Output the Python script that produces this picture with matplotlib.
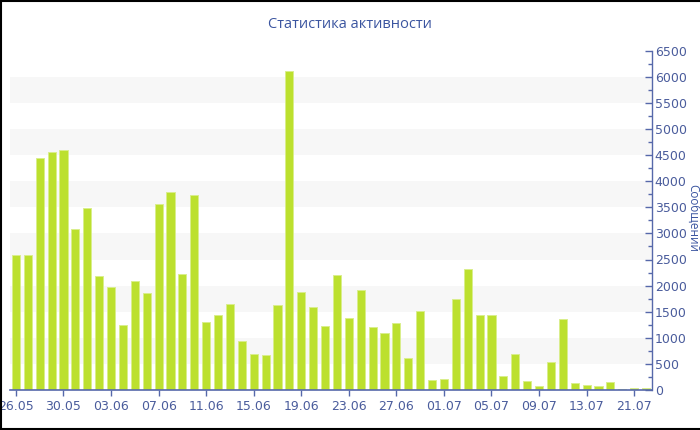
import matplotlib
matplotlib.use("Agg")
import matplotlib.pyplot as plt
from matplotlib.lines import Line2D
import numpy as np

dates = ["26.05", "27.05", "28.05", "29.05", "30.05", "31.05", "01.06", "02.06", "03.06",
         "04.06", "05.06", "06.06", "07.06", "08.06", "09.06", "10.06", "11.06", "12.06",
         "13.06", "14.06", "15.06", "16.06", "17.06", "18.06", "19.06", "20.06", "21.06",
         "22.06", "23.06", "24.06", "25.06", "26.06", "27.06", "28.06", "29.06", "30.06",
         "01.07", "02.07", "03.07", "04.07", "05.07", "06.07", "07.07", "08.07", "09.07",
         "10.07", "11.07", "12.07", "13.07", "14.07", "16.07", "18.07", "21.07", "22.07"]
messages = [2590, 2590, 4440, 4550, 4590, 3080, 3480, 2185, 1975, 1245,
            2085, 1850, 3555, 3800, 2230, 3730, 1295, 1430, 1650, 935,
            685, 665, 1635, 6105, 1870, 1585, 1230, 2195, 1380, 1915,
            1200, 1100, 1280, 605, 1505, 185, 215, 1750, 2320, 1440,
            1445, 260, 690, 165, 70, 530, 1355, 130, 100, 75,
            145, 20, 30, 30]
title = "Статистика активности"
ylabel = "Сообщений"

blue = "#3b55a0"
tick_blue = "#4a5c9c"
axis_blue = "#5668aa"
bar_color = "#bce02e"

fig = plt.figure(figsize=(7, 4.3), dpi=100)
ax = fig.add_axes([10/700, 40/430, 642/700, (390-50.7)/430])

x = np.arange(len(dates))
for lo in range(500, 6500, 1000):
    ax.axhspan(lo, lo + 500, color="#f7f7f7", zorder=0, lw=0)

ax.bar(x, messages, width=0.68, color=bar_color, edgecolor="#d9ee8c", linewidth=0.7, zorder=2)

ax.set_xlim(-0.5, len(dates) - 0.5)
ax.set_ylim(0, 6500)

ax.yaxis.tick_right()
ax.set_yticks(np.arange(0, 6501, 500))
ax.set_yticks(np.arange(0, 6501, 250), minor=True)
ax.tick_params(axis="y", which="major", direction="in", length=5, width=1, color=axis_blue,
               labelcolor=tick_blue, labelsize=9, pad=2)
ax.tick_params(axis="y", which="minor", direction="in", length=3, width=1, color=axis_blue)

ticks = x[::4]
ax.set_xticks(ticks)
ax.set_xticklabels([dates[i] for i in ticks])
ax.tick_params(axis="x", direction="out", length=4, width=1, color=axis_blue,
               labelcolor=tick_blue, labelsize=9, pad=3)

for s in ["top", "left"]:
    ax.spines[s].set_visible(False)
ax.spines["right"].set_color(axis_blue)
ax.spines["bottom"].set_color(axis_blue)
ax.spines["right"].set_linewidth(1)
ax.spines["bottom"].set_linewidth(1.2)

fig.text(0.5, 1 - 25/430, title, ha="center", va="center", color=blue, fontsize=10.5,
         family="Open Sans")
fig.text(693/700, 1 - 218/430, ylabel, ha="center", va="center", rotation=270,
         color=blue, fontsize=8.5, family="Open Sans")

lw = 1.5
fig.add_artist(Line2D([0.001, 0.001], [0, 1], transform=fig.transFigure, color="black", lw=lw))
fig.add_artist(Line2D([0, 1], [0.998, 0.998], transform=fig.transFigure, color="black", lw=lw))
fig.add_artist(Line2D([0, 1], [0.002, 0.002], transform=fig.transFigure, color="black", lw=lw))

fig.savefig("out.png", dpi=100)
